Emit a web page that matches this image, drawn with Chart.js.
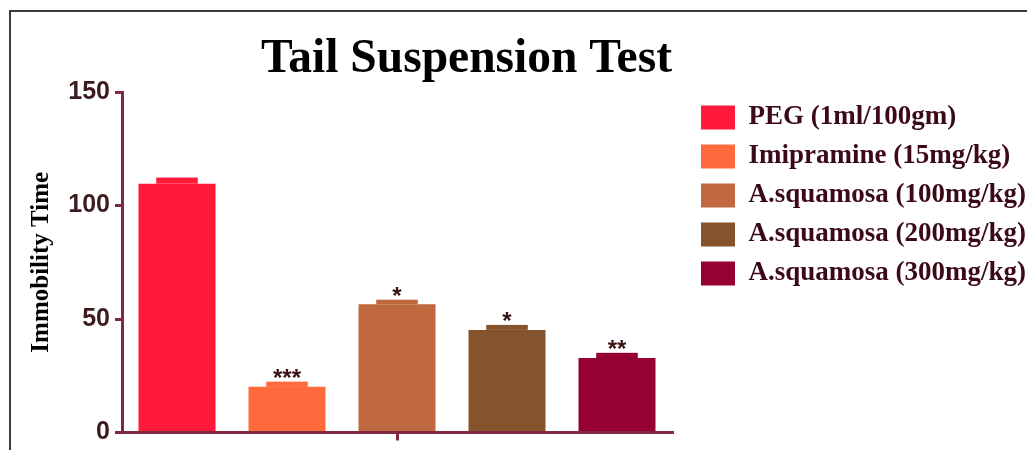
<!DOCTYPE html>
<html lang="en">
<head>
<meta charset="UTF-8">
<title>Tail Suspension Test</title>
<script src="https://cdn.jsdelivr.net/npm/chart.js"></script>
<style>
  html, body { margin: 0; padding: 0; overflow: hidden; background: #fff; }
  .frame { position: absolute; left: 9px; top: 10px; width: 1100px; height: 500px; border: 2px solid #3c3c3c; }
  #tst { position: absolute; left: 0; top: 0; }
</style>
</head>
<body>
<div class="frame"></div>
<canvas id="tst" width="1100" height="450"></canvas>
<script>
// groups and read-off values (immobility time, mean and SEM)
const groups = ['PEG (1ml/100gm)', 'Imipramine (15mg/kg)', 'A.squamosa (100mg/kg)', 'A.squamosa (200mg/kg)', 'A.squamosa (300mg/kg)'];
const immobility = [109.6, 20.1, 56.5, 45.2, 32.8];
const sem = [2.7, 2.3, 2.0, 2.2, 2.3];
const stars = ['', '***', '*', '*', '**'];
const colors = ['#ff1a3a', '#ff6a3d', '#c0683f', '#86542c', '#970033'];
const yTicks = [0, 50, 100, 150];

const axisColor = '#7e2b40';
const legendFont = { family: 'Liberation Serif', size: 27, weight: 'bold' };

// legend width = padding + box + gap + longest label + 10, so the plot ends where the legend begins
const mctx = document.createElement('canvas').getContext('2d');
mctx.font = 'bold 27px "Liberation Serif"';
const labelW = Math.max(...groups.map(g => mctx.measureText(g).width));
const legendW = 12 + 34 + 13.5 + labelW + 10;
const canvasW = 1100;
const padRight = canvasW - 689 - legendW;

// error bar blocks + significance stars
const errorBars = {
    id: 'errorBars',
    afterDatasetsDraw(chart) {
        const ctx = chart.ctx;
        const y = chart.scales.y;
        ctx.save();
        chart.data.datasets.forEach((ds, i) => {
            const bar = chart.getDatasetMeta(i).data[0];
            const top = y.getPixelForValue(immobility[i] + sem[i]);
            const w = bar.width * 0.54;
            ctx.fillStyle = colors[i];
            ctx.fillRect(bar.x - w / 2, top, w, bar.y - top);
            if (stars[i]) {
                ctx.fillStyle = '#3a1216';
                ctx.font = 'bold 24px "Liberation Sans"';
                ctx.textAlign = 'center';
                ctx.textBaseline = 'alphabetic';
                ctx.fillText(stars[i], bar.x, top + 4);
            }
        });
        ctx.restore();
    }
};

new Chart(document.getElementById('tst'), {
    type: 'bar',
    data: {
        labels: [''],
        datasets: groups.map((g, i) => ({
            label: g,
            data: [immobility[i]],
            backgroundColor: colors[i],
            borderWidth: 0,
            barPercentage: 0.7,
            categoryPercentage: 1
        }))
    },
    options: {
        responsive: false,
        animation: false,
        layout: { padding: { top: 14, left: 24, right: padRight, bottom: 6 } },
        plugins: {
            tooltip: { enabled: false },
            title: {
                display: true,
                fullSize: false,
                align: 'end',
                text: 'Tail Suspension Test',
                color: '#000',
                font: { family: 'Liberation Serif', size: 47.5, weight: 'bold' },
                padding: { top: 17, bottom: 4 }
            },
            legend: {
                position: 'right',
                align: 'start',
                fullSize: false,
                maxWidth: legendW + 5,
                labels: {
                    boxWidth: 34,
                    boxHeight: 24,
                    padding: 12,
                    color: '#3b0a16',
                    font: legendFont
                }
            }
        },
        scales: {
            x: {
                grid: { drawOnChartArea: false, offset: false, color: axisColor, lineWidth: 3, tickLength: 8 },
                border: { color: axisColor, width: 3 },
                ticks: { display: false }
            },
            y: {
                min: 0,
                max: 150,
                afterBuildTicks: s => { s.ticks = yTicks.map(v => ({ value: v })); },
                grid: { drawOnChartArea: false, color: axisColor, lineWidth: 3, tickLength: 7 },
                border: { color: axisColor, width: 3 },
                ticks: {
                    color: '#3d1c1e',
                    padding: 5,
                    font: { family: 'Liberation Sans', size: 25, weight: 'bold', lineHeight: 1 }
                },
                title: {
                    display: true,
                    text: 'Immobility Time',
                    color: '#000',
                    font: { family: 'Liberation Serif', size: 25, weight: 'bold' },
                    padding: { top: 3 }
                },
                afterFit: s => { s.width = 98; }
            },
            // empty spacer between plot and legend
            gap: {
                axis: 'y',
                type: 'linear',
                position: 'right',
                grid: { display: false },
                border: { display: false },
                ticks: { display: false },
                afterFit: s => { s.width = 17; }
            }
        }
    },
    plugins: [errorBars]
});
</script>
</body>
</html>
